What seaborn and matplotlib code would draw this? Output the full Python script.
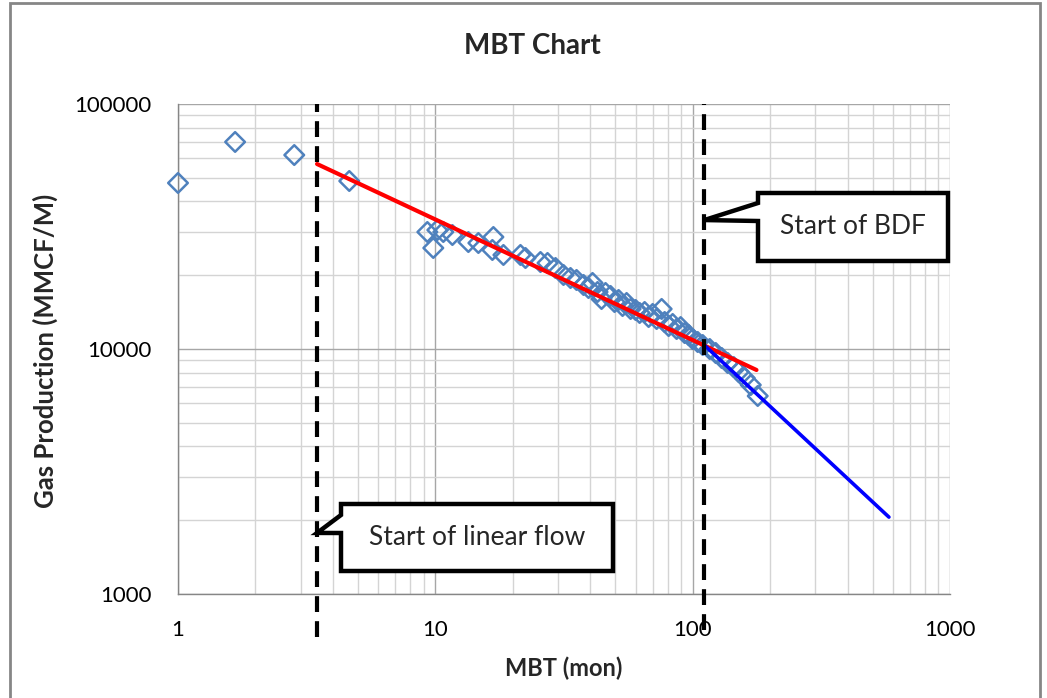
import matplotlib
matplotlib.use("Agg")
import matplotlib.pyplot as plt
from matplotlib.patches import Polygon, Rectangle
from matplotlib.ticker import FixedLocator, LogLocator, FixedFormatter, NullFormatter
import pandas as pd
import seaborn as sns

# Material balance time (months) and normalised gas production
mbt_months = [
    1.0, 1.667, 2.83, 4.63,
    9.31, 9.82, 10.18, 10.74, 11.65, 13.44, 14.70, 16.81, 16.66, 18.39,
    21.42, 22.40, 25.62, 27.29, 29.31, 31.48, 33.52, 35.38, 37.66, 39.38,
    40.82, 42.69, 44.25, 45.86, 47.96, 49.71, 51.53, 53.41, 55.37, 57.39,
    60.01, 62.21, 65.06, 67.44, 69.91, 72.44, 75.76, 77.83, 80.66, 83.61,
    86.63, 89.80, 93.08, 96.47, 100.0, 104.6, 109.4, 116.5, 122.9, 129.7,
    136.8, 144.4, 151.0, 159.4, 168.2, 179.0,
]
gas_production = [
    47600, 70000, 61900, 48500,
    30030, 25840, 30590, 30030, 29190, 27330, 27080, 28650, 25360, 24200,
    24200, 23520, 22650, 22440, 21410, 20050, 19490, 19130, 18250, 17740,
    18600, 17090, 16000, 16930, 16460, 15550, 15850, 14980, 15410, 14570,
    14430, 14030, 14160, 13510, 13900, 13260, 14570, 12890, 12410, 12650,
    12070, 12290, 11620, 11410, 10980, 10680, 10380, 10000, 9630, 9190,
    8770, 8440, 8060, 7610, 7130, 6430,
]

# Fitted trends: half-slope linear flow and unit-slope boundary dominated flow
linear_fit_mbt = [3.47, 177.0]
linear_fit_gas = [56900, 8210]
bdf_fit_mbt = [112.0, 579.0]
bdf_fit_gas = [10280, 2060]

# Flow regime boundaries (months)
linear_flow_start = 3.47
bdf_start = 111.0

x_ticks = [1, 10, 100, 1000]
x_tick_labels = ["1", "10", "100", "1000"]
y_ticks = [1000, 10000, 100000]
y_tick_labels = ["1000", "10000", "100000"]

title_text = "MBT Chart"
x_label = "MBT (mon)"
y_label = "Gas Production (MMCF/M)"
bdf_note = "Start of BDF"
linear_note = "Start of linear flow"

points = pd.DataFrame({"mbt": mbt_months, "gas": gas_production})

sns.set_theme(style="white")
plt.rcParams["font.family"] = ["Lato", "DejaVu Sans"]

W, H = 1047, 698
fig = plt.figure(figsize=(W / 100, H / 100), dpi=100)
fig.patch.set_facecolor("white")


def fx(px):
    return px / W


def fy(py):
    return 1 - py / H


ax = fig.add_axes([fx(178), fy(594), fx(950) - fx(178), fy(104) - fy(594)])
ax.set_xscale("log")
ax.set_yscale("log")
ax.set_xlim(1, 1000)
ax.set_ylim(1000, 100000)

marker_blue = "#4f81bd"
sns.scatterplot(data=points, x="mbt", y="gas", marker="D", s=100, ax=ax,
                zorder=3, legend=False)
pts = ax.collections[-1]
pts.set_facecolor("none")
pts.set_edgecolor(marker_blue)
pts.set_linewidth(1.8)
pts.set_clip_on(False)

sns.lineplot(x=linear_fit_mbt, y=linear_fit_gas, color="#ff0000", linewidth=3,
             estimator=None, sort=False, ax=ax, zorder=4)
sns.lineplot(x=bdf_fit_mbt, y=bdf_fit_gas, color="#0000ff", linewidth=2.6,
             estimator=None, sort=False, ax=ax, zorder=4)

ax.axvline(linear_flow_start, ymin=-0.088, ymax=1.0, color="black", lw=3,
           dashes=(3.8, 2.2), clip_on=False, zorder=5)
ax.axvline(bdf_start, ymin=-0.073, ymax=1.0, color="black", lw=3,
           dashes=(3.8, 2.2), clip_on=False, zorder=5)

# Axes, ticks and grid
ax.xaxis.set_major_locator(FixedLocator(x_ticks))
ax.xaxis.set_major_formatter(FixedFormatter(x_tick_labels))
ax.yaxis.set_major_locator(FixedLocator(y_ticks))
ax.yaxis.set_major_formatter(FixedFormatter(y_tick_labels))
ax.xaxis.set_minor_locator(LogLocator(base=10, subs=range(2, 10)))
ax.yaxis.set_minor_locator(LogLocator(base=10, subs=range(2, 10)))
ax.xaxis.set_minor_formatter(NullFormatter())
ax.yaxis.set_minor_formatter(NullFormatter())
ax.set_axisbelow(True)
ax.grid(which="major", color="#a6a6a6", linewidth=1)
ax.grid(which="minor", color="#d4d4d4", linewidth=1)
for side in ("top", "right"):
    ax.spines[side].set_visible(False)
for side in ("left", "bottom"):
    ax.spines[side].set_color("#868686")
    ax.spines[side].set_linewidth(1)
ax.tick_params(which="major", length=5, width=1, color="#868686",
               labelsize=16, labelcolor="black", direction="out")
ax.tick_params(axis="x", which="major", pad=14)
ax.tick_params(axis="y", which="major", pad=14)
ax.tick_params(which="minor", length=0)

ax.set_xlabel(x_label, fontsize=17, fontweight="bold")
ax.set_ylabel(y_label, fontsize=18.5, fontweight="bold")
ax.xaxis.set_label_coords(0.499, -0.127)
ax.yaxis.set_label_coords(-0.155, 0.496)

fig.text(fx(532), fy(46), title_text, ha="center", va="center",
         fontsize=20, fontweight="bold")


def callout(tip_data, left, top, right, bottom, upper_y, lower_y, text):
    tip = fig.transFigure.inverted().transform(ax.transData.transform(tip_data))
    verts = [
        (fx(left), fy(top)), (fx(right), fy(top)), (fx(right), fy(bottom)),
        (fx(left), fy(bottom)), (fx(left), fy(lower_y)), tuple(tip),
        (fx(left), fy(upper_y)),
    ]
    fig.add_artist(Polygon(verts, closed=True, facecolor="white",
                           edgecolor="black", linewidth=3.2,
                           joinstyle="miter", transform=fig.transFigure,
                           zorder=6))
    fig.text(fx((left + right) / 2), fy((top + bottom) / 2), text,
             ha="center", va="center", fontsize=19, zorder=7)


callout((bdf_start, 33600), 758, 193, 948, 261, 203, 221, bdf_note)
callout((linear_flow_start, 1775), 341, 504, 613, 571, 515, 533, linear_note)

# Chart frame
fig.add_artist(Rectangle((fx(10), -0.01), fx(1040) - fx(10), fy(3) + 0.01,
                         transform=fig.transFigure, fill=False,
                         edgecolor="#868686", linewidth=2))

fig.savefig("out.png", dpi=100)
